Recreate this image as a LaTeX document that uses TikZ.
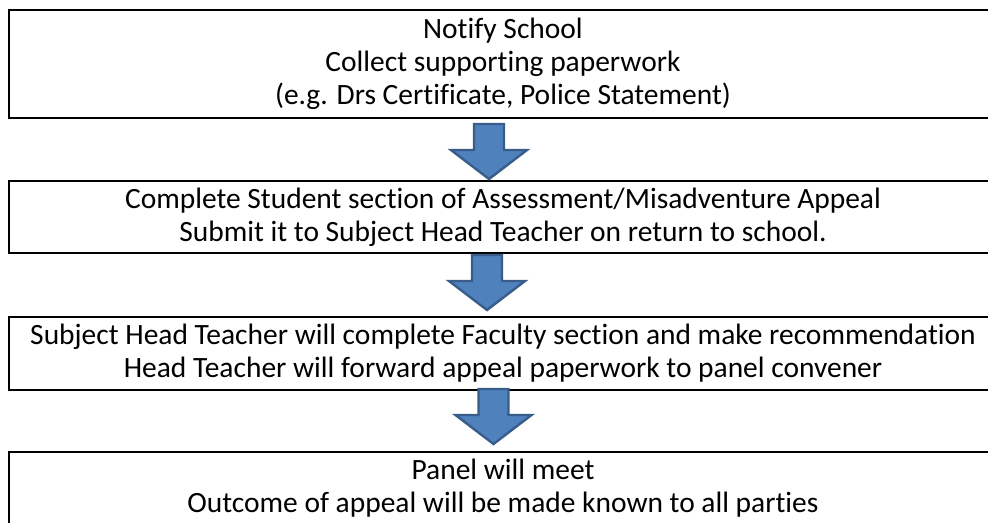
\documentclass[tikz,border=0pt]{standalone}
\usepackage{fontspec}
\setmainfont{Carlito}[Ligatures=NoCommon]
\definecolor{arrowblue}{HTML}{4F81BD}
\definecolor{arrowedge}{HTML}{385D8A}
\begin{document}
\begin{tikzpicture}[x=0.75pt,y=-0.75pt,
  stepbox/.style={draw=black, line width=1.5pt, minimum width=741pt,
    inner sep=0pt, align=center, text=black,
    font=\fontsize{22.1}{24.9}\selectfont},
  downarrow/.pic={
    \filldraw[fill=arrowblue, draw=arrowedge, line width=1.8pt, line join=miter]
      (-15,0) -- (15,0) -- (15,26) -- (38,26) -- (0,55) -- (-38,26) -- (-15,26) -- cycle;
  }]
\useasboundingbox (0,0) rectangle (988,522);
\clip (0,0) rectangle (988,522);

% process steps
\node[stepbox, minimum height=81pt] (s1) at (503,64)
  {Notify School\\Collect supporting paperwork\\(e.g. Drs Certificate, Police Statement)};
\node[stepbox, minimum height=54pt] (s2) at (503,217)
  {Complete Student section of Assessment/Misadventure Appeal\\Submit it to Subject Head Teacher on return to school.};
\node[stepbox, minimum height=54.75pt] (s3) at (503,353.5)
  {Subject Head Teacher will complete Faculty section and make recommendation\\Head Teacher will forward appeal paperwork to panel convener};
\node[stepbox, minimum height=54.75pt] (s4) at (503,488.5)
  {Panel will meet\\Outcome of appeal will be made known to all parties};

% block arrows between the steps
\coordinate (a1) at (489,124);
\coordinate (a2) at (487,255);
\coordinate (a3) at (493.5,389);
\pic at (a1) {downarrow};
\pic at (a2) {downarrow};
\pic at (a3) {downarrow};
\end{tikzpicture}
\end{document}
